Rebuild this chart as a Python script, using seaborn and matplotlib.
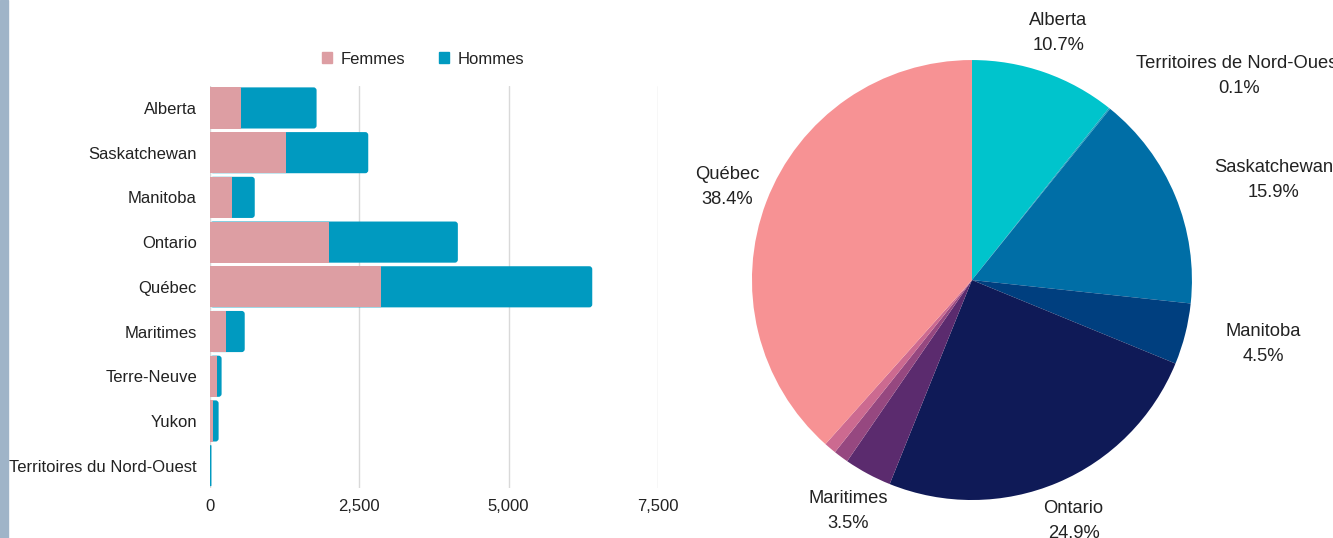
import pandas as pd
import matplotlib.pyplot as plt
import seaborn as sns
from matplotlib.patches import Patch, Rectangle, FancyBboxPatch

# --- Données ---
regions = ['Alberta', 'Saskatchewan', 'Manitoba', 'Ontario', 'Québec',
           'Maritimes', 'Terre-Neuve', 'Yukon', 'Territoires du Nord-Ouest']
femmes = [520, 1270, 370, 2000, 2870, 270, 120, 55, 8]
hommes = [1265, 1380, 380, 2150, 3530, 312, 75, 90, 17]

pie_labels = ['Alberta', 'Territoires de Nord-Ouest', 'Saskatchewan', 'Manitoba',
              'Ontario', 'Maritimes', 'Terre-Neuve', 'Yukon', 'Québec']
pie_pct = [10.7, 0.1, 15.9, 4.5, 24.9, 3.5, 1.1, 0.9, 38.4]
pie_colors = ['#00c4cc', '#1a9fbe', '#006ea6', '#003f7f', '#0f1a57',
              '#5b2b6e', '#964880', '#cc6a90', '#f79294']

ROSE = '#dd9ea3'
BLEU = '#009ac0'

sns.set_theme(style='white')
plt.rcParams['font.family'] = ['Liberation Sans', 'DejaVu Sans']
plt.rcParams['text.color'] = '#222222'

fig = plt.figure(figsize=(13.33, 5.38), dpi=100)
fig.patches.append(Rectangle((0, 0), 8 / 1333, 1, transform=fig.transFigure,
                             color='#9fb4c8', zorder=0))

# --- Barres empilées ---
df = pd.DataFrame({'region': regions, 'Femmes': femmes, 'Hommes': hommes})
df['total'] = df['Femmes'] + df['Hommes']

ax = fig.add_axes([0.1575, 0.0929, 0.3361, 0.748])
sns.barplot(data=df, x='total', y='region', color=BLEU, width=0.92,
            saturation=1, linewidth=0, ax=ax, zorder=3)
# bouts arrondis pour les barres bleues
for p in list(ax.patches):
    x0, y0, w, h = p.get_x(), p.get_y(), p.get_width(), p.get_height()
    r = min(50, w / 2)
    ax.add_patch(FancyBboxPatch((x0, y0), w, h,
                                boxstyle=f'round,pad=0,rounding_size={r}',
                                mutation_aspect=0.00134, color=BLEU,
                                linewidth=0, zorder=3))
    p.remove()
sns.barplot(data=df, x='Femmes', y='region', color=ROSE, width=0.92,
            saturation=1, linewidth=0, ax=ax, zorder=4)
ax.set_xlim(0, 7500)
ax.set_xticks([0, 2500, 5000, 7500])
ax.set_xticklabels(['0', '2,500', '5,000', '7,500'])
ax.grid(axis='x', color='#d9d9d9', linewidth=1, zorder=0)
ax.set_xlabel('')
ax.set_ylabel('')
ax.tick_params(axis='both', length=0, labelsize=12, colors='#222222')
ax.tick_params(axis='y', pad=9.4)
ax.tick_params(axis='x', pad=8)
for s in ax.spines.values():
    s.set_visible(False)

handles = [Patch(color=ROSE, label='Femmes'), Patch(color=BLEU, label='Hommes')]
fig.legend(handles=handles, loc='center', bbox_to_anchor=(423 / 1333, 1 - 59 / 538),
           ncol=2, frameon=False, fontsize=12, handlelength=0.65, handleheight=0.65,
           columnspacing=2.0, handletextpad=0.5)

# --- Camembert ---
axp = fig.add_axes([0.5641, 0.0706, 0.3301, 0.8178])
txt = [f'{n}\n{p}%' for n, p in zip(pie_labels, pie_pct)]
txt = [t if p >= 2 or n == 'Territoires de Nord-Ouest' else ''
       for t, n, p in zip(txt, pie_labels, pie_pct)]
wedges, texts = axp.pie(pie_pct, labels=txt, colors=pie_colors, startangle=90,
                        counterclock=False, labeldistance=1.19,
                        wedgeprops=dict(linewidth=0),
                        textprops=dict(fontsize=13.2, color='#222222', linespacing=1.62))
for n, t in zip(pie_labels, texts):
    t.set_va('center')
    t.set_multialignment('center')
    if n in ('Territoires de Nord-Ouest', 'Saskatchewan', 'Manitoba'):
        t.set_ha('left')
    else:
        t.set_ha('center')
axp.set_xlim(-1, 1)
axp.set_ylim(-1, 1)
axp.set_aspect('equal')
axp.axis('off')

fig.savefig('out.png', dpi=100)
